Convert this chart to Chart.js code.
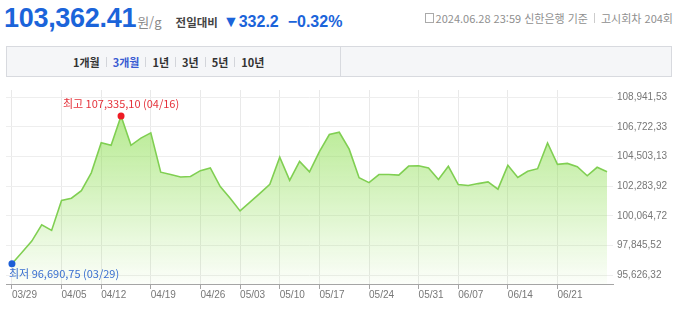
<!DOCTYPE html>
<html lang="ko">
<head>
<meta charset="utf-8">
<script src="https://cdn.jsdelivr.net/npm/chart.js@4"></script>
<style>
  body { margin: 0; width: 680px; height: 314px; overflow: hidden; background: #fff;
         font-family: "Noto Sans CJK KR", "Noto Sans", sans-serif; position: relative; }
  .head { position: absolute; left: 4px; top: 0; height: 36px; display: flex; align-items: baseline; white-space: nowrap; }
  .price { font: bold 27px "Liberation Sans", Arial, sans-serif; color: #1b64da; letter-spacing: -0.3px; line-height: 36px; }
  .unit { font-size: 13px; color: #8a8a8a; margin-left: 1px; }
  .diff-lbl { font-size: 11.5px; font-weight: bold; color: #444; margin-left: 14px; }
  .diff { font: bold 16px "Liberation Sans", Arial, sans-serif; color: #1b64da; margin-left: 5px; }
  .info { position: absolute; right: 7px; top: 0; height: 36px; display: flex; align-items: center;
          font-size: 11px; color: #8f8f8f; white-space: nowrap; }
  .ico { display: inline-block; width: 7px; height: 8px; border: 1px solid #aaa; margin-right: 2px; position: relative; top: 0; }
  .sep { display: inline-block; width: 1px; height: 10px; background: #ccc; margin: 0 6px; }
  .tabs { position: absolute; left: 6px; top: 46px; width: 664px; height: 29px; background: #f5f6f8;
          border: 1px solid #d8dadf; }
  .tabs .list { position: absolute; left: 66px; top: 0; height: 29px; display: flex; align-items: center;
                font-size: 11px; font-weight: bold; color: #333; }
  .tabs .list .on { color: #3a5bd3; }
  .tabs .list .bar { display: inline-block; width: 1px; height: 10px; background: #d3d5da; margin: 0 6px; }
  .tabs .div { position: absolute; left: 333px; top: 0; width: 1px; height: 29px; background: #d8dadf; }
  canvas { position: absolute; left: 0; top: 80px; }
</style>
</head>
<body>
<div class="head">
  <span class="price">103,362.41</span><span class="unit">원/g</span>
  <span class="diff-lbl">전일대비</span>
  <span class="diff">▼332.2&nbsp; −0.32%</span>
</div>
<div class="info"><span class="ico"></span>2024.06.28 23:59 신한은행 기준<span class="sep"></span>고시회차 204회</div>
<div class="tabs">
  <div class="list">
    <span>1개월</span><span class="bar"></span>
    <span class="on">3개월</span><span class="bar"></span>
    <span>1년</span><span class="bar"></span>
    <span>3년</span><span class="bar"></span>
    <span>5년</span><span class="bar"></span>
    <span>10년</span>
  </div>
  <div class="div"></div>
</div>
<canvas id="chart" width="680" height="234"></canvas>
<script>
// business days shown on the chart
const dates = ['03/29','04/01','04/02','04/03','04/04','04/05','04/08','04/09','04/11','04/12',
  '04/15','04/16','04/17','04/18','04/19','04/22','04/23','04/24','04/25','04/26',
  '04/29','04/30','05/02','05/03','05/07','05/08','05/09','05/10','05/13','05/14',
  '05/16','05/17','05/20','05/21','05/22','05/23','05/24','05/27','05/28','05/29',
  '05/30','05/31','06/03','06/04','06/05','06/07','06/10','06/11','06/12','06/13',
  '06/14','06/17','06/18','06/19','06/20','06/21','06/24','06/25','06/26','06/27','06/28'];

// gold price, won per gram
const prices = [96479, 97324, 98177, 99394, 98979, 101216, 101384, 101945, 103279, 105538,
  105341, 107528, 105341, 105880, 106267, 103330, 103155, 102965, 103009, 103446,
  103643, 102258, 101384, 100436, 101092, 101748, 102426, 104444, 102717, 104131,
  103351, 104860, 106143, 106317, 105049, 102914, 102550, 103154, 103154, 103111,
  103789, 103810, 103643, 102790, 103767, 102404, 102331, 102477, 102601, 102061,
  103840, 102936, 103402, 103592, 105516, 103912, 103985, 103738, 103060, 103694, 103362.41];

const tickDates = ['03/29','04/05','04/12','04/19','04/26','05/03','05/10','05/17','05/24','05/31','06/07','06/14','06/21'];
const yTicks = [95626.32, 97845.52, 100064.72, 102283.92, 104503.13, 106722.33, 108941.53];

// values printed next to the high / low markers
const highValue = 107335.10;
const lowValue = 96690.75;

const fmt = v => {
  const [a, b] = v.toFixed(2).split('.');
  return a.replace(/\B(?=(\d{3})+(?!\d))/g, ',') + ',' + b;
};

const maxIdx = prices.indexOf(Math.max(...prices));
const minIdx = prices.indexOf(Math.min(...prices));

const markerText = {
  id: 'markerText',
  afterDatasetsDraw(chart) {
    const pts = chart.getDatasetMeta(0).data;
    const c = chart.ctx;
    c.save();
    c.font = '11px "Noto Sans CJK KR", sans-serif';
    c.textBaseline = 'middle';
    const hi = pts[maxIdx];
    c.fillStyle = '#e5323b';
    c.textAlign = 'center';
    c.fillText('최고 ' + fmt(highValue) + ' (' + dates[maxIdx] + ')', hi.x, hi.y - 12);
    const lo = pts[minIdx];
    c.fillStyle = '#3a6fd0';
    c.textAlign = 'left';
    c.fillText('최저 ' + fmt(lowValue) + ' (' + dates[minIdx] + ')', lo.x - 3, lo.y + 10);
    c.restore();
  }
};

new Chart(document.getElementById('chart'), {
  type: 'line',
  data: {
    datasets: [{
      data: prices.map((v, i) => ({x: i, y: v})),
      borderColor: '#80cf52',
      borderWidth: 1.6,
      tension: 0,
      fill: 'start',
      backgroundColor: (ctx) => {
        const area = ctx.chart.chartArea;
        if (!area) return 'rgba(140,220,80,0.4)';
        const g = ctx.chart.ctx.createLinearGradient(0, area.top, 0, area.bottom);
        g.addColorStop(0, 'rgba(140,222,80,0.72)');
        g.addColorStop(1, 'rgba(140,222,80,0.03)');
        return g;
      },
      pointRadius: (ctx) => (ctx.dataIndex === maxIdx || ctx.dataIndex === minIdx) ? 3.5 : 0,
      pointBackgroundColor: (ctx) => ctx.dataIndex === maxIdx ? '#ee1c25' : '#1d5fd6',
      pointBorderWidth: 0
    }]
  },
  options: {
    responsive: false,
    animation: false,
    layout: {padding: {left: 6, top: 5, right: 0, bottom: 13}},
    plugins: {legend: {display: false}, tooltip: {enabled: false}},
    scales: {
      x: {
        type: 'linear',
        min: -0.6,
        max: 60.6,
        afterBuildTicks: (scale) => { scale.ticks = tickDates.map(d => ({value: dates.indexOf(d)})); },
        ticks: {
          callback: (v) => dates[v],
          align: 'start',
          autoSkip: false,
          maxRotation: 0,
          padding: 0,
          color: '#777',
          font: {family: '"Liberation Sans", Arial, sans-serif', size: 10}
        },
        grid: {color: '#e9e9e9', tickColor: '#a5a5a5', tickLength: 5},
        border: {color: '#a5a5a5', width: 1}
      },
      y: {
        position: 'right',
        min: 94970.4,
        max: 109473.5,
        afterBuildTicks: (scale) => { scale.ticks = yTicks.map(v => ({value: v})); },
        afterFit: (scale) => { scale.width = 67; },
        ticks: {
          callback: (v) => fmt(v),
          padding: 4,
          color: '#777',
          font: {family: '"Liberation Sans", Arial, sans-serif', size: 10}
        },
        grid: {color: '#eeeeee', drawTicks: false},
        border: {display: false}
      }
    }
  },
  plugins: [markerText]
});
</script>
</body>
</html>
